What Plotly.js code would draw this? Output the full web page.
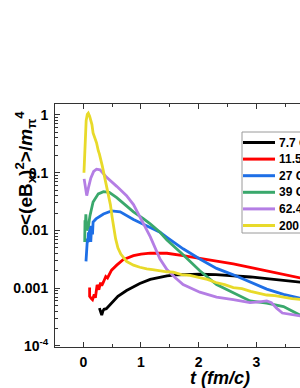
<!DOCTYPE html>
<html><head><meta charset="utf-8">
<script src="https://cdn.plot.ly/plotly-3.0.1.min.js"></script>
<style>html,body{margin:0;padding:0;background:#fff;}#chart{width:300px;height:388px;}</style>
</head><body><div id="chart"></div>
<script>
// ---- data ----
const seriesNames = ['7.7 GeV', '11.5 GeV', '27 GeV', '39 GeV', '62.4 GeV', '200 GeV'];

const t77 = [0.28, 0.30, 0.32, 0.34, 0.36, 0.40, 0.45, 0.52, 0.60, 0.75, 0.87, 0.98, 1.16, 1.30, 1.45, 1.60, 1.80, 2.02, 2.30, 2.60, 2.90, 3.18, 3.47, 3.76];
const v77 = [0.00045, 0.00039, 0.00034, 0.00040, 0.00043, 0.00044, 0.00050, 0.00061, 0.00072, 0.00091, 0.00106, 0.00120, 0.00142, 0.00153, 0.00163, 0.00170, 0.00174, 0.00174, 0.00172, 0.00166, 0.00156, 0.00146, 0.00136, 0.00127];

const t115 = [0.11, 0.11, 0.14, 0.16, 0.19, 0.21, 0.24, 0.27, 0.30, 0.32, 0.35, 0.39, 0.42, 0.49, 0.58, 0.69, 0.87, 1.00, 1.16, 1.30, 1.45, 1.73, 2.02, 2.31, 2.60, 2.89, 3.18, 3.47, 3.76];
const v115 = [0.00103, 0.00072, 0.00066, 0.00063, 0.00078, 0.00068, 0.00114, 0.00094, 0.00125, 0.00110, 0.00128, 0.00159, 0.00150, 0.00205, 0.00250, 0.00310, 0.00365, 0.00390, 0.00405, 0.00408, 0.00402, 0.00365, 0.00330, 0.00295, 0.00262, 0.00228, 0.00198, 0.00172, 0.00150];

const t27 = [0.047, 0.055, 0.065, 0.072, 0.08, 0.09, 0.10, 0.116, 0.13, 0.145, 0.16, 0.17, 0.22, 0.28, 0.35, 0.49, 0.64, 0.87, 1.10, 1.33, 1.45, 1.73, 2.02, 2.31, 2.60, 2.89, 3.18, 3.47, 3.76];
const v27 = [0.0029, 0.0049, 0.0040, 0.0072, 0.0062, 0.0093, 0.0080, 0.0120, 0.0063, 0.0120, 0.0085, 0.0140, 0.0158, 0.0175, 0.0192, 0.0218, 0.0210, 0.0155, 0.0120, 0.0093, 0.0076, 0.0048, 0.0032, 0.0022, 0.0017, 0.00128, 0.00096, 0.00078, 0.00067];

const t39 = [0.025, 0.03, 0.035, 0.045, 0.06, 0.09, 0.116, 0.17, 0.26, 0.35, 0.45, 0.58, 0.75, 0.87, 1.04, 1.16, 1.33, 1.45, 1.73, 2.02, 2.31, 2.60, 2.89, 3.18, 3.47, 3.76];
const v39 = [0.0063, 0.0150, 0.0120, 0.0190, 0.0100, 0.0120, 0.0180, 0.0310, 0.0430, 0.0470, 0.0455, 0.0370, 0.0270, 0.0210, 0.0160, 0.0130, 0.0093, 0.0068, 0.0038, 0.0020, 0.00115, 0.00082, 0.00060, 0.00055, 0.00048, 0.00034];

const t624 = [0.015, 0.03, 0.06, 0.09, 0.13, 0.18, 0.23, 0.29, 0.405, 0.58, 0.75, 0.87, 1.04, 1.16, 1.33, 1.45, 1.60, 1.73, 2.02, 2.31, 2.60, 2.89, 3.05, 3.18, 3.26, 3.35, 3.45, 3.60, 3.76];
const v624 = [0.078, 0.060, 0.040, 0.055, 0.080, 0.105, 0.115, 0.112, 0.083, 0.058, 0.040, 0.028, 0.0135, 0.0078, 0.0032, 0.0021, 0.0015, 0.00115, 0.00085, 0.00070, 0.00063, 0.00056, 0.00058, 0.00060, 0.00056, 0.00045, 0.00037, 0.00035, 0.00033];

const t200 = [0.012, 0.03, 0.05, 0.07, 0.087, 0.11, 0.128, 0.15, 0.17, 0.2, 0.23, 0.26, 0.28, 0.33, 0.376, 0.43, 0.47, 0.50, 0.53, 0.56, 0.60, 0.65, 0.75, 0.87, 0.98, 1.10, 1.20, 1.33, 1.45, 1.56, 1.70, 1.85, 2.02, 2.15, 2.30, 2.45, 2.60, 2.75, 2.90, 3.05, 3.18, 3.32, 3.47, 3.62, 3.76];
const v200 = [0.10, 0.30, 0.80, 1.02, 1.07, 0.95, 0.82, 0.68, 0.49, 0.40, 0.33, 0.24, 0.21, 0.13, 0.078, 0.045, 0.028, 0.017, 0.011, 0.0072, 0.0050, 0.0039, 0.0029, 0.0025, 0.0023, 0.00215, 0.0021, 0.0020, 0.00192, 0.0019, 0.00172, 0.00166, 0.00150, 0.00142, 0.00125, 0.00115, 0.00102, 0.00098, 0.00088, 0.00082, 0.00076, 0.00074, 0.00069, 0.00066, 0.00064];

const tValues = [t77, t115, t27, t39, t624, t200];
const yValues = [v77, v115, v27, v39, v624, v200];

// ---- axes / ticks ----
const yTickVals = [1e-4, 0.001, 0.01, 0.1, 1];
const yTickText = ['10<sup>-4</sup>', '0.001', '0.01', '0.1', '1'];
const xTickVals = [0, 1, 2, 3];

// ---- styles ----
const colors = ['#000000', '#ff0000', '#1e6fe6', '#3aa86c', '#b47ee4', '#e8da2a'];
const W = 300, H = 388, ML = 55, MR = 0, MT = 104, MB = 41;
const PW = W - ML - MR, PH = H - MT - MB;
const px = v => (v - ML) / PW;
const py = v => (H - MB - v) / PH;

const minorY = [];
for (let d = -4; d <= 0; d++) for (let k = 2; k <= 9; k++) minorY.push(k * Math.pow(10, d));

const traces = seriesNames.map((n, i) => ({
  x: tValues[i], y: yValues[i], name: n, type: 'scatter', mode: 'lines',
  line: {color: colors[i], width: 2.8, shape: 'linear'}, showlegend: false
}));

const fontFam = 'Arial, "Liberation Sans", sans-serif';
const shapes = [];
const annotations = [];
// legend box
shapes.push({type: 'rect', xref: 'paper', yref: 'paper', x0: px(242), x1: px(330), y0: py(233), y1: py(132),
  line: {color: '#9a9a9a', width: 1}, fillcolor: '#ffffff', layer: 'above'});
seriesNames.forEach((n, i) => {
  const yy = 142.5 + i * 16.6;
  shapes.push({type: 'line', xref: 'paper', yref: 'paper', x0: px(243), x1: px(275), y0: py(yy), y1: py(yy),
    line: {color: colors[i], width: 3}, layer: 'above'});
  annotations.push({xref: 'paper', yref: 'paper', x: px(277), y: py(yy), xanchor: 'left', yanchor: 'middle',
    text: n, showarrow: false, font: {family: fontFam, size: 12, color: '#000', weight: 'bold'}});
});
// axis titles
annotations.push({xref: 'paper', yref: 'paper', x: px(220), y: py(378), xanchor: 'center', yanchor: 'middle',
  text: '<i>t (fm/c)</i>', showarrow: false, font: {family: fontFam, size: 18, color: '#000', weight: 'bold'}});
annotations.push({xref: 'paper', yref: 'paper', x: px(25), y: py(168), xanchor: 'center', yanchor: 'middle', textangle: -90,
  text: '&lt;(eB<sub>x</sub>)<sup>2</sup>&gt;/<i>m</i><sub>π</sub><sup>4</sup>', showarrow: false,
  font: {family: fontFam, size: 19, color: '#000', weight: 'bold'}});

const layout = {
  width: W, height: H,
  margin: {l: ML, r: MR, t: MT, b: MB, autoexpand: false},
  paper_bgcolor: '#fff', plot_bgcolor: '#fff',
  showlegend: false,
  font: {family: fontFam, color: '#000'},
  xaxis: {
    range: [-0.49, 3.756], showgrid: false, zeroline: false,
    showline: true, linecolor: '#333', linewidth: 1, mirror: 'ticks',
    ticks: 'inside', ticklen: 5, tickwidth: 1, tickcolor: '#333',
    tickmode: 'array', tickvals: xTickVals,
    tickfont: {family: fontFam, size: 14, color: '#000', weight: 'bold'},
    ticklabelstandoff: 2,
    minor: {dtick: 0.5, tick0: 0, ticks: 'inside', ticklen: 3, tickcolor: '#333', showgrid: false}
  },
  yaxis: {
    type: 'log', range: [-4.02, 0.19], showgrid: false, zeroline: false,
    showline: true, linecolor: '#333', linewidth: 1, mirror: false,
    ticks: 'inside', ticklen: 5, tickwidth: 1, tickcolor: '#333',
    tickmode: 'array', tickvals: yTickVals, ticktext: yTickText,
    tickfont: {family: fontFam, size: 14, color: '#000', weight: 'bold'},
    ticklabelstandoff: 3,
    minor: {tickmode: 'array', tickvals: minorY, ticks: 'inside', ticklen: 3, tickcolor: '#333', showgrid: false}
  },
  shapes: shapes,
  annotations: annotations
};

Plotly.newPlot('chart', traces, layout, {staticPlot: true, displayModeBar: false});
</script>
</body></html>
